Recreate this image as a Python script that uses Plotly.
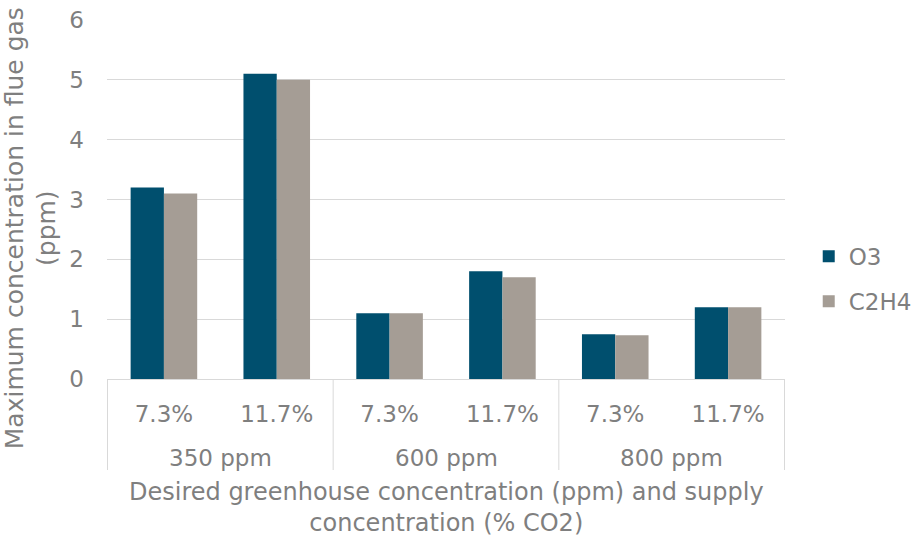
import plotly.graph_objects as go

# Desired greenhouse CO2 level (outer group) and supply CO2 concentration (inner category)
greenhouse_ppm = ["350 ppm", "350 ppm", "600 ppm", "600 ppm", "800 ppm", "800 ppm"]
supply_pct = ["7.3%", "11.7%", "7.3%", "11.7%", "7.3%", "11.7%"]

# Maximum concentration in flue gas (ppm)
o3_values = [3.2, 5.1, 1.1, 1.8, 0.75, 1.2]
c2h4_values = [3.1, 5.0, 1.1, 1.7, 0.73, 1.2]

y_ticks = [0, 1, 2, 3, 4, 5, 6]

text_gray = "#7f7f7f"
line_gray = "#d9d9d9"
font_family = "DejaVu Sans, Verdana, sans-serif"

# unique category keys, labelled with the inner (supply) level
cat_keys = [f"{g} | {s}" for g, s in zip(greenhouse_ppm, supply_pct)]

fig = go.Figure()
fig.add_trace(go.Bar(
    name="O3",
    legendgroup="o3",
    x=cat_keys,
    y=o3_values,
    marker=dict(color="#004f6e", line=dict(width=0)),
))
fig.add_trace(go.Bar(
    name="C2H4",
    legendgroup="c2h4",
    x=cat_keys,
    y=c2h4_values,
    marker=dict(color="#a59d95", line=dict(width=0)),
))

# outer group labels and the divider lines of the two-level category axis
groups = []
for i, g in enumerate(greenhouse_ppm):
    if not groups or groups[-1][0] != g:
        groups.append([g, i, i])
    else:
        groups[-1][2] = i

divider_bottom = -0.2535
shapes = []
annotations = []
boundaries = [groups[0][1] - 0.5] + [grp[2] + 0.5 for grp in groups]
for b in boundaries:
    shapes.append(dict(
        type="line", xref="x", yref="paper",
        x0=b, x1=b, y0=0, y1=divider_bottom,
        line=dict(color=line_gray, width=1),
        layer="below",
    ))
for name, start, end in groups:
    annotations.append(dict(
        text=name, xref="x", yref="paper",
        x=(start + end) / 2, y=-0.22,
        xanchor="center", yanchor="middle",
        showarrow=False,
        font=dict(size=23, color=text_gray),
    ))

# axis titles
annotations.append(dict(
    text="Desired greenhouse concentration (ppm) and supply<br>concentration (% CO2)",
    xref="paper", yref="paper", x=0.5, y=-0.359,
    xanchor="center", yanchor="middle", showarrow=False,
    font=dict(size=24, color=text_gray),
))
annotations.append(dict(
    text="Maximum concentration in flue gas<br>(ppm)",
    xref="paper", yref="paper", x=0, y=0.42,
    xshift=-76, xanchor="center", yanchor="middle", showarrow=False,
    textangle=-90,
    font=dict(size=25, color=text_gray),
))

fig.update_layout(
    width=912,
    height=536,
    margin=dict(l=107, r=127, t=20, b=157, autoexpand=False),
    paper_bgcolor="white",
    plot_bgcolor="white",
    barmode="group",
    bargap=0.41,
    bargroupgap=0,
    font=dict(family=font_family, color=text_gray, size=23),
    legend=dict(
        x=1.035, y=0.279, xanchor="left", yanchor="middle",
        font=dict(size=23, color=text_gray),
        itemwidth=30, tracegroupgap=12,
    ),
    xaxis=dict(
        type="category",
        tickvals=cat_keys,
        ticktext=supply_pct,
        showline=True, linecolor=line_gray, linewidth=1,
        showgrid=False,
        ticks="",
        ticklabelstandoff=14,
        tickfont=dict(size=23, color=text_gray),
    ),
    yaxis=dict(
        range=[0, 6],
        tickvals=y_ticks,
        showgrid=True, gridcolor=line_gray, gridwidth=1,
        zeroline=False,
        showline=False,
        ticks="",
        ticklen=0,
        ticklabelstandoff=22,
        tickfont=dict(size=23, color=text_gray),
    ),
    shapes=shapes,
    annotations=annotations,
)

fig.write_html("out.html")
